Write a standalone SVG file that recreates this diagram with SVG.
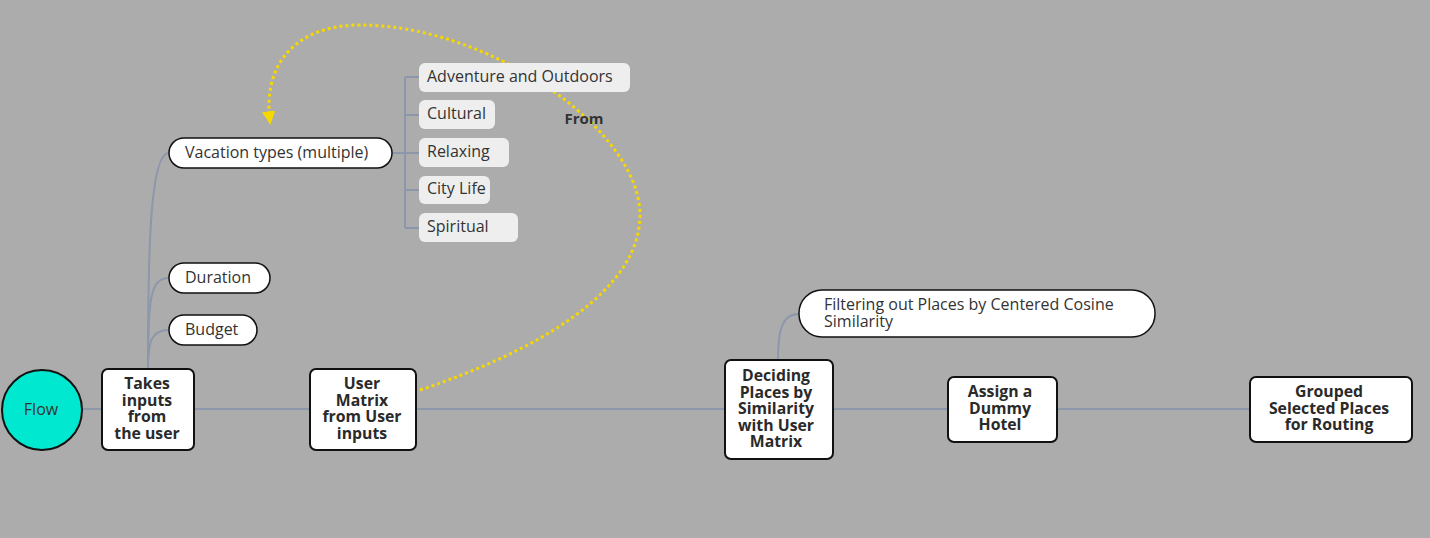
<svg xmlns="http://www.w3.org/2000/svg" width="1430" height="538" viewBox="0 0 1430 538">
<defs>
<style>
.line{fill:none;stroke:#8c97ab;stroke-width:2}
.box{fill:#fff;stroke:#111;stroke-width:2}
.pill{fill:#fff;stroke:#111;stroke-width:1.5}
.sub{fill:#eeeeee;stroke:none}
.bt{font-family:"Open Sans","Liberation Sans",sans-serif;font-size:15.8px;font-weight:bold;fill:#2a2a2a;text-anchor:middle}
.t{font-family:"Open Sans","Liberation Sans",sans-serif;font-size:16px;fill:#333}
.dot{fill:none;stroke:#f7d700;stroke-width:3;stroke-dasharray:3 3}
</style>
<marker id="ah" viewBox="0 0 10 10" refX="8" refY="5" markerWidth="4.5" markerHeight="4.5" orient="auto" markerUnits="strokeWidth">
<path d="M0,0 L10,5 L0,10 z" fill="#f7d700"/>
</marker>
</defs>
<rect width="1430" height="538" fill="#acacac"/>
<g id="connectors">
<path class="line" d="M82,409 H1250"/>
<path class="line" d="M148,369 C148,250 150,153 169,153"/>
<path class="line" d="M148,369 C148,300 150,278 169,278"/>
<path class="line" d="M148,369 C148,340 152,330 169,330"/>
<path class="line" d="M392,153 H405 M405,77 V228 M405,77 H419 M405,115 H419 M405,153 H419 M405,190 H419 M405,228 H419"/>
<path class="line" d="M778,360 C778,330 782,314 799,314"/>
<path class="dot" d="M420,390 C540,350 640,290 640,215 C640,130 490,25 360,25 C300,25 262,60 270,122" marker-end="url(#ah)"/>
<text class="t" x="584" y="124" text-anchor="middle" style="font-weight:bold;font-size:15px">From</text>
</g>
<g id="flow">
<circle cx="42" cy="410" r="40" fill="#00e8d0" stroke="#111" stroke-width="2"/>
<text class="t" x="41" y="415" text-anchor="middle">Flow</text>
</g>
<g id="takes">
<rect class="box" x="102" y="369" width="92" height="81" rx="6"/>
<text class="bt" x="147" y="389">Takes</text>
<text class="bt" x="147" y="405.5">inputs</text>
<text class="bt" x="147" y="422">from</text>
<text class="bt" x="147" y="438.5">the user</text>
</g>
<g id="usermatrix">
<rect class="box" x="310" y="369" width="106" height="81" rx="6"/>
<text class="bt" x="362" y="389">User</text>
<text class="bt" x="362" y="405.5">Matrix</text>
<text class="bt" x="362" y="422">from User</text>
<text class="bt" x="362" y="438.5">inputs</text>
</g>
<g id="deciding">
<rect class="box" x="725" y="360" width="108" height="99" rx="6"/>
<text class="bt" x="776" y="381">Deciding</text>
<text class="bt" x="776" y="397.5">Places by</text>
<text class="bt" x="776" y="414">Similarity</text>
<text class="bt" x="776" y="430.5">with User</text>
<text class="bt" x="776" y="447">Matrix</text>
</g>
<g id="assign">
<rect class="box" x="948" y="377" width="109" height="65" rx="6"/>
<text class="bt" x="1000" y="397">Assign a</text>
<text class="bt" x="1000" y="413.5">Dummy</text>
<text class="bt" x="1000" y="430">Hotel</text>
</g>
<g id="grouped">
<rect class="box" x="1250" y="377" width="162" height="65" rx="6"/>
<text class="bt" x="1329" y="397">Grouped</text>
<text class="bt" x="1329" y="413.5">Selected Places</text>
<text class="bt" x="1329" y="430">for Routing</text>
</g>
<g id="vacation">
<rect class="pill" x="169" y="138" width="223" height="30" rx="15"/>
<text class="t" x="185" y="158">Vacation types (multiple)</text>
</g>
<g id="duration">
<rect class="pill" x="169" y="263" width="101" height="30" rx="15"/>
<text class="t" x="185" y="283">Duration</text>
</g>
<g id="budget">
<rect class="pill" x="169" y="315" width="88" height="30" rx="15"/>
<text class="t" x="185" y="335">Budget</text>
</g>
<g id="filtering">
<rect class="pill" x="799" y="290" width="356" height="47" rx="23"/>
<text class="t" x="824" y="310">Filtering out Places by Centered Cosine</text>
<text class="t" x="824" y="327">Similarity</text>
</g>
<g id="adventure">
<rect class="sub" x="419" y="63" width="211" height="29" rx="6"/>
<text class="t" x="427" y="82">Adventure and Outdoors</text>
</g>
<g id="cultural">
<rect class="sub" x="419" y="100" width="76" height="29" rx="6"/>
<text class="t" x="427" y="119">Cultural</text>
</g>
<g id="relaxing">
<rect class="sub" x="419" y="138" width="90" height="29" rx="6"/>
<text class="t" x="427" y="157">Relaxing</text>
</g>
<g id="citylife">
<rect class="sub" x="419" y="176" width="71" height="28" rx="6"/>
<text class="t" x="427" y="194">City Life</text>
</g>
<g id="spiritual">
<rect class="sub" x="419" y="213" width="99" height="29" rx="6"/>
<text class="t" x="427" y="232">Spiritual</text>
</g>
</svg>
